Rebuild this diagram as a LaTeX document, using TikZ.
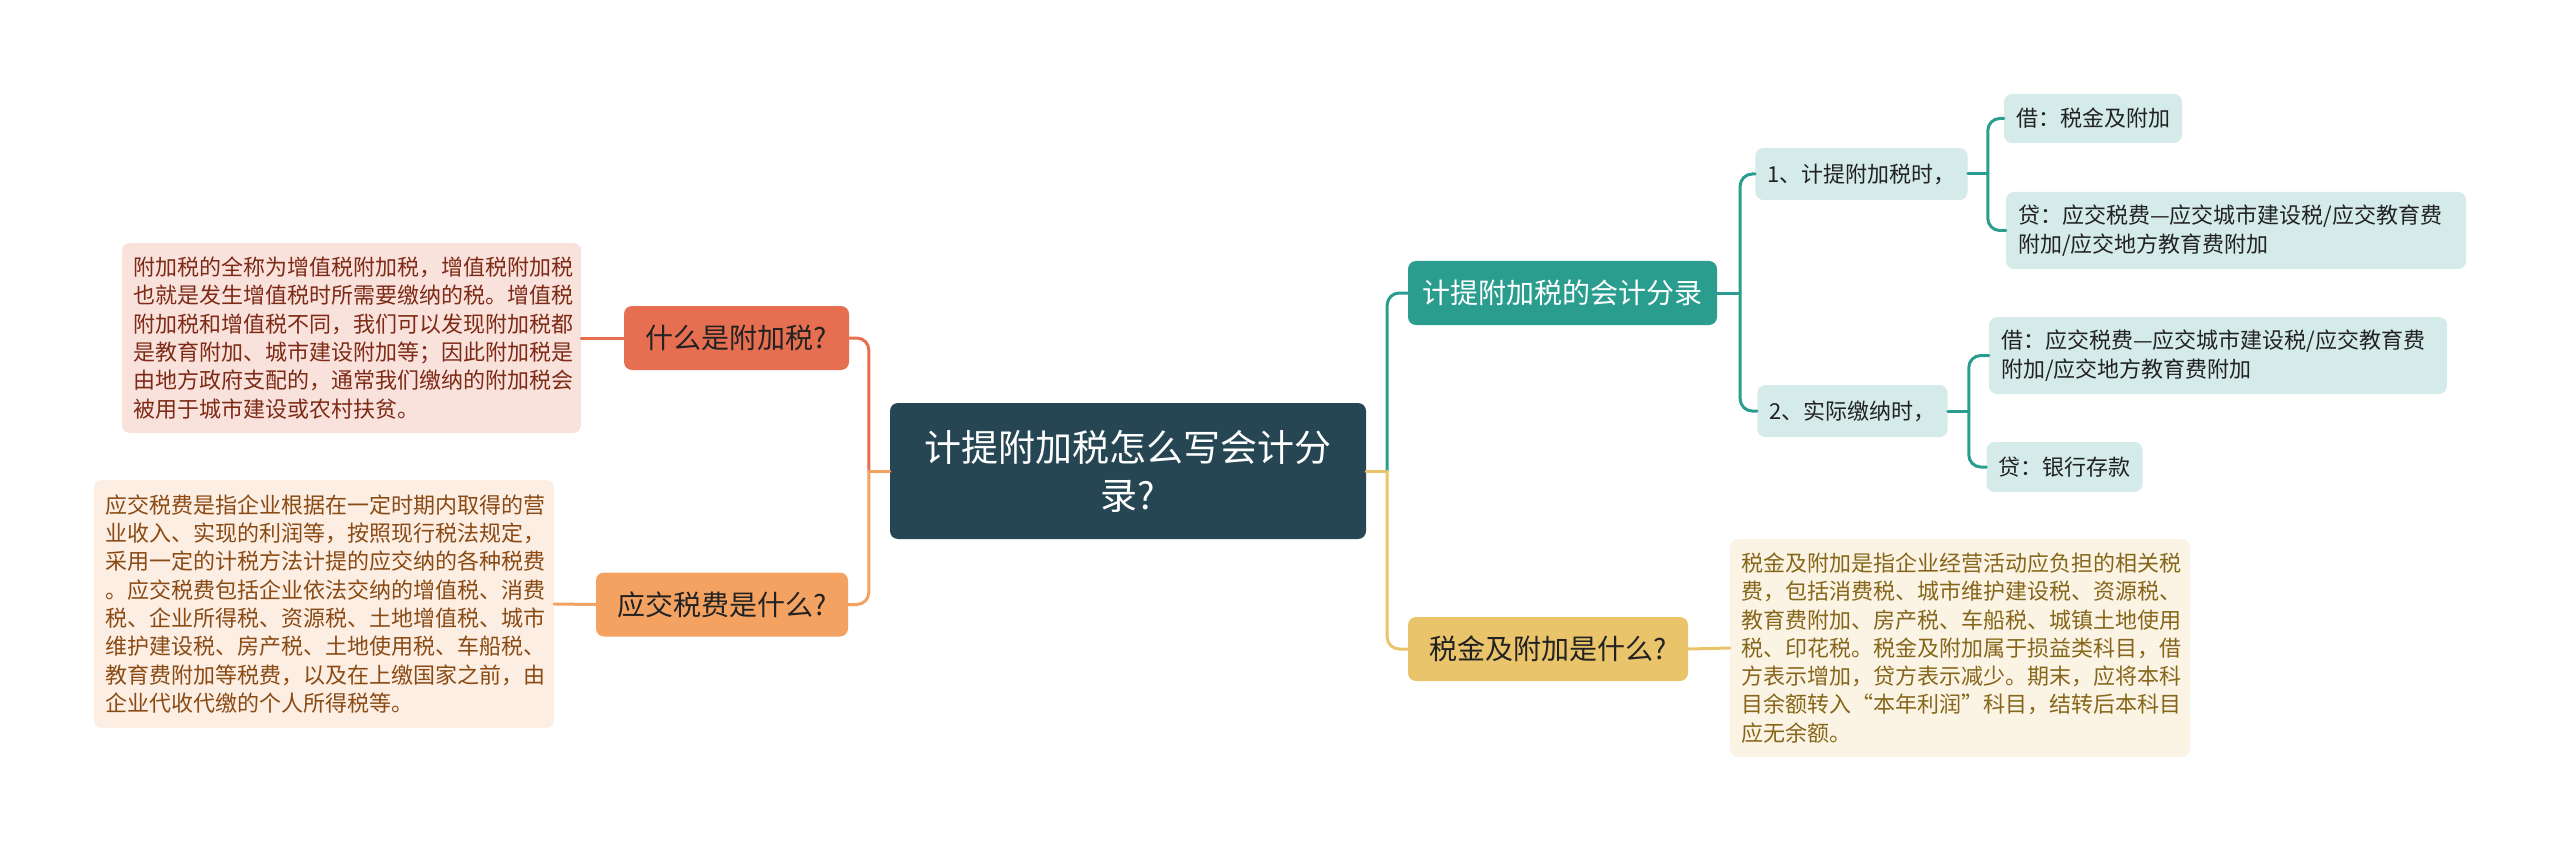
\documentclass[tikz,border=0pt]{standalone}
\usepackage{fontspec}
\newfontfamily\cjk{Noto Sans CJK SC}
\definecolor{cDark}{HTML}{264653}
\definecolor{cTeal}{HTML}{2A9D8F}
\definecolor{cYel}{HTML}{E9C46A}
\definecolor{cOra}{HTML}{F4A261}
\definecolor{cRed}{HTML}{E76F51}
\definecolor{txtDark}{HTML}{222222}
\definecolor{txtRed}{HTML}{7D2A16}
\definecolor{txtOra}{HTML}{8A4A14}
\definecolor{txtYel}{HTML}{86661A}
\tikzset{
  box/.style={rounded corners=8, inner sep=0pt, anchor=center},
  lvlone/.style={box, minimum height=64, font=\cjk\fontsize{28}{34}\selectfont, text=txtDark},
  detail/.style={box, align=left, inner xsep=11, font=\cjk\fontsize{22}{28.3}\selectfont},
  sub/.style={box, fill=cTeal!20!white, text=txtDark, font=\cjk\fontsize{22}{28.3}\selectfont, align=left, inner xsep=12},
  conn/.style={line width=3, line cap=round},
  rc/.style={rounded corners=12}
}
\begin{document}
\begin{tikzpicture}[x=1pt,y=-1pt]
\useasboundingbox (0,0) rectangle (2560,853);
% central
\node[box, fill=cDark, text=white, minimum width=476, minimum height=136, align=center,
  font=\cjk\fontsize{37}{48}\selectfont] (c) at (1128,471) {计提附加税怎么写会计分\\录?};
% left
\node[lvlone, fill=cRed, minimum width=225] (a1) at (736.5,338) {什么是附加税?};
\node[detail, fill=cRed!20!white, text=txtRed, text width=437, minimum height=190] (a1t) at (351.5,338)
 {附加税的全称为增值税附加税，增值税附加税\\也就是发生增值税时所需要缴纳的税。增值税\\附加税和增值税不同，我们可以发现附加税都\\是教育附加、城市建设附加等；因此附加税是\\由地方政府支配的，通常我们缴纳的附加税会\\被用于城市建设或农村扶贫。};
\node[lvlone, fill=cOra, minimum width=252] (a2) at (722,604.5) {应交税费是什么?};
\node[detail, fill=cOra!18!white, text=txtOra, text width=438, minimum height=248] (a2t) at (324,604)
 {应交税费是指企业根据在一定时期内取得的营\\业收入、实现的利润等，按照现行税法规定，\\采用一定的计税方法计提的应交纳的各种税费\\。应交税费包括企业依法交纳的增值税、消费\\税、企业所得税、资源税、土地增值税、城市\\维护建设税、房产税、土地使用税、车船税、\\教育费附加等税费，以及在上缴国家之前，由\\企业代收代缴的个人所得税等。};
% right
\node[lvlone, fill=cTeal, text=white, minimum width=309] (b1) at (1562.5,293) {计提附加税的会计分录};
\node[lvlone, fill=cYel, minimum width=280] (b2) at (1548,649) {税金及附加是什么?};
\node[detail, fill=cYel!18!white, text=txtYel, text width=438, minimum height=218] (b2t) at (1960,648)
 {税金及附加是指企业经营活动应负担的相关税\\费，包括消费税、城市维护建设税、资源税、\\教育费附加、房产税、车船税、城镇土地使用\\税、印花税。税金及附加属于损益类科目，借\\方表示增加，贷方表示减少。期末，应将本科\\目余额转入“本年利润”科目，结转后本科目\\应无余额。};
\node[sub, minimum width=205, minimum height=52] (s1) at (1861.5,174) {1、计提附加税时，};
\node[sub, minimum width=187, minimum height=52] (s2) at (1852.5,411) {2、实际缴纳时，};
\node[sub, minimum width=174, minimum height=49] (t1) at (2093,118.5) {借：税金及附加};
\node[sub, text width=436, minimum height=77] (t2) at (2236,230.5) {贷：应交税费—应交城市建设税/应交教育费\\附加/应交地方教育费附加};
\node[sub, text width=434, minimum height=77] (t3) at (2218,355.5) {借：应交税费—应交城市建设税/应交教育费\\附加/应交地方教育费附加};
\node[sub, minimum width=151, minimum height=50] (t4) at (2064.5,467) {贷：银行存款};
% connectors left
\coordinate (jl) at ([xshift=-21]c.west);
\draw[conn, cOra] (c.west) -- (jl);
\draw[conn, cRed, rc] (jl) |- (a1.east);
\draw[conn, cOra, rc] (jl) |- (a2.east);
\draw[conn, cRed] (a1.west) -- (a1t.east);
\draw[conn, cOra] (a2.west) -- (a2t.east);
% connectors right
\coordinate (jr) at ([xshift=21]c.east);
\draw[conn, cYel] (c.east) -- (jr);
\draw[conn, cTeal, rc] (jr) |- (b1.west);
\draw[conn, cYel, rc] (jr) |- (b2.west);
\draw[conn, cYel] (b2.east) -- (b2t.west);
\coordinate (j1) at ([xshift=23]b1.east);
\draw[conn, cTeal] (b1.east) -- (j1);
\draw[conn, cTeal, rc] (j1) |- (s1.west);
\draw[conn, cTeal, rc] (j1) |- (s2.west);
\coordinate (j2) at ([xshift=20]s1.east);
\draw[conn, cTeal] (s1.east) -- (j2);
\draw[conn, cTeal, rc] (j2) |- (t1.west);
\draw[conn, cTeal, rc] (j2) |- (t2.west);
\coordinate (j3) at ([xshift=21]s2.east);
\draw[conn, cTeal] (s2.east) -- (j3);
\draw[conn, cTeal, rc] (j3) |- (t3.west);
\draw[conn, cTeal, rc] (j3) |- (t4.west);
\end{tikzpicture}
\end{document}
